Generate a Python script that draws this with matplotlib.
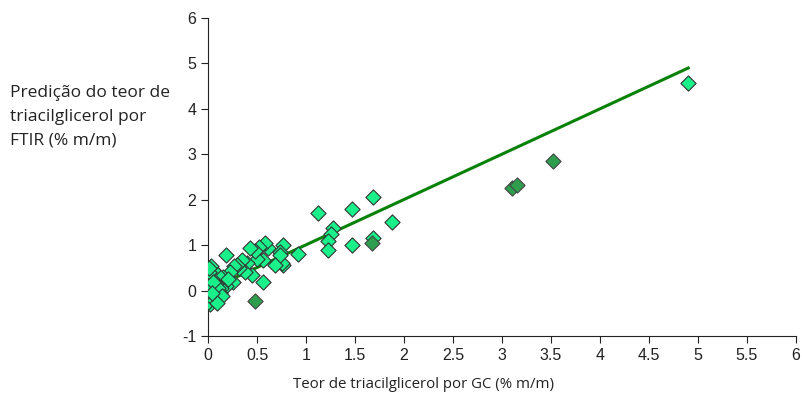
import numpy as np
import matplotlib
matplotlib.use('Agg')
import matplotlib.pyplot as plt

plt.rcParams['font.family'] = ['Liberation Sans', 'DejaVu Sans']
plt.rcParams['axes.unicode_minus'] = False

# GC reference (x) vs FTIR prediction (y), % m/m
gc_light = [4.90, 1.88, 1.68, 1.68, 1.47, 1.47, 1.28, 1.25, 1.22, 1.22, 1.12,
            0.92, 0.76, 0.77, 0.73, 0.75, 0.73, 0.68, 0.61, 0.58, 0.56, 0.56,
            0.52, 0.50, 0.48, 0.45, 0.43, 0.40, 0.38, 0.35, 0.32, 0.30, 0.27,
            0.25, 0.22, 0.18, 0.18, 0.15, 0.13, 0.12, 0.10, 0.08, 0.07, 0.05,
            0.04, 0.03, 0.03, 0.02, 0.02, 0.01, 0.00, 0.00, 0.06, 0.10, 0.20,
            0.14, 0.09, 0.05, 0.01, 0.04]
ftir_light = [4.57, 1.52, 2.05, 1.15, 1.80, 1.00, 1.37, 1.25, 1.10, 0.89, 1.70,
              0.80, 1.00, 0.56, 0.85, 0.60, 0.78, 0.56, 0.93, 1.05, 0.67, 0.19,
              0.95, 0.70, 0.88, 0.34, 0.93, 0.60, 0.42, 0.67, 0.50, 0.56, 0.55,
              0.20, 0.40, 0.78, 0.10, 0.30, 0.05, -0.05, 0.35, 0.15, -0.10, 0.45,
              0.25, 0.55, 0.00, -0.15, -0.30, 0.40, 0.10, -0.25, -0.20, 0.05, 0.25,
              -0.12, -0.28, 0.20, 0.50, -0.05]

gc_dark = [0.48, 1.67, 3.10, 3.15, 3.52]
ftir_dark = [-0.22, 1.05, 2.25, 2.32, 2.85]

# regression line
fit_x = [0.02, 4.90]
fit_y = [0.03, 4.90]

fig = plt.figure(figsize=(8.02, 4.01), dpi=100)
ax = fig.add_axes([0.2594, 0.162, 0.7331, 0.793])

ax.plot(fit_x, fit_y, color='#078207', lw=2.2, zorder=2)
ax.scatter(gc_light, ftir_light, marker='D', s=60, color='#19F08A',
           edgecolor='#333333', linewidth=0.8, zorder=3)
ax.scatter(gc_dark, ftir_dark, marker='D', s=60, color='#2E9E4E',
           edgecolor='#444444', linewidth=0.8, zorder=4)

ax.set_xlim(0, 6)
ax.set_ylim(-1, 6)
ax.set_xticks(np.arange(0, 6.01, 0.5))
ax.set_xticklabels(['0', '0.5', '1', '1.5', '2', '2.5', '3', '3.5', '4', '4.5', '5', '5.5', '6'])
ax.set_yticks(range(-1, 7))
for s in ['top', 'right']:
    ax.spines[s].set_visible(False)
for s in ['left', 'bottom']:
    ax.spines[s].set_color('#222222')
ax.tick_params(direction='out', length=5, color='#222222', labelsize=11.5,
               labelcolor='#222222')

fig.text(0.012, 0.708, 'Predição do teor de\ntriacilglicerol por\nFTIR (% m/m)',
         fontsize=12.5, family='Open Sans', color='#222222', va='center',
         ha='left', linespacing=1.65)
fig.text(0.528, 0.042, 'Teor de triacilglicerol por GC (% m/m)', fontsize=10.8,
         family='Open Sans', color='#222222', ha='center', va='center')

fig.savefig('out.png', dpi=100)
